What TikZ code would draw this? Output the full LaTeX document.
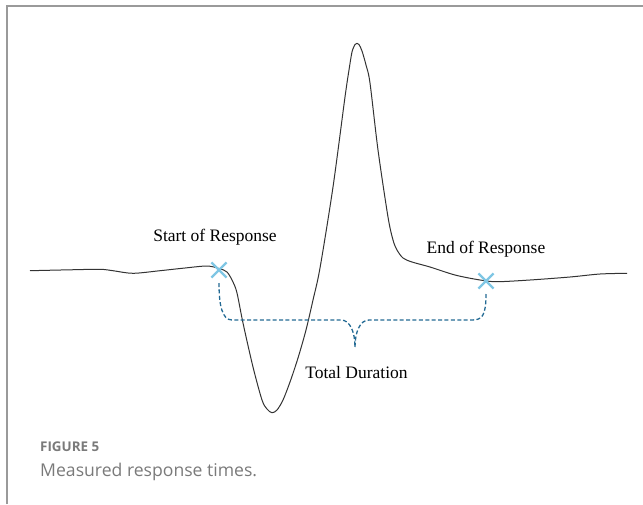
\documentclass[tikz,border=0pt]{standalone}
\usepackage{fontspec}
\setmainfont{Liberation Serif}
\newfontfamily\capfont{Open Sans}
\usetikzlibrary{shapes.misc}

\definecolor{framegray}{HTML}{9A9A9A}
\definecolor{wavegray}{HTML}{333333}
\definecolor{markblue}{HTML}{7FC6E4}
\definecolor{durblue}{HTML}{236A94}
\definecolor{captiongray}{HTML}{7A7A7A}

\tikzset{
  waveline/.style={draw=wavegray, line width=1pt, line join=round},
  crossmark/.style={cross out, draw=markblue, line width=2.2pt, minimum size=13pt, inner sep=0pt},
  durline/.style={draw=durblue, line width=1.3pt, dash pattern=on 4pt off 2.4pt},
  marklabel/.style={font=\fontsize{17.5}{20}\selectfont, anchor=base, inner sep=0pt}
}

\begin{document}
\begin{tikzpicture}[x=1pt, y=-1pt]

  \useasboundingbox (0,0) rectangle (643,504);

  % frame
  \draw[framegray, line width=1.4pt] (7,504) -- (7,6) -- (643,6);

  % response trace
  \draw[waveline] plot[smooth, tension=0.5] coordinates {
    (30,270.7) (70,269.8) (100,269.3) (113,270.7) (133,273.3) (160,270.7)
    (185,268) (207,266) (219,268.5) (227,272) (233,282) (237,293)
    (243,323) (253,367) (262,400) (267,409) (272,412.7) (277,410)
    (283,400) (290,382) (298,358) (306,330) (313,300) (320,268) (333,187)
    (345,97) (349,70) (352,52) (355,44.5) (357,43.3) (359,44.5)
    (362,51) (366,65) (370,83)
    (378,150) (388,217) (393,240) (397,250) (403,258) (412,262)
    (430,267) (455,275) (480,280) (497,281.7) (530,280) (570,277)
    (600,274) (627,273.3)};

  % markers
  \node[crossmark] (startx) at (219,270) {};
  \node[crossmark] (endx)   at (486,281) {};

  \node[marklabel] (startlbl) at (215,241.7) {Start of Response};
  \node[marklabel] (endlbl)   at (486,253)   {End of Response};

  % duration brace
  \coordinate (durtip) at (355,347);
  \draw[durline] ([yshift=-13pt]startx.center) .. controls +(0,22) and +(-10,0) .. (232,320)
    -- (341,320) .. controls +(9,0) and +(0,-15) .. (durtip);
  \draw[durline] ([yshift=-13pt]endx.center) .. controls +(0,22) and +(10,0) .. (472,320)
    -- (369,320) .. controls +(-9,0) and +(0,-15) .. (durtip);

  \node[marklabel] (durlbl) at (356.5,378) {Total Duration};

  % caption
  \node[anchor=base west, inner sep=0pt, text=captiongray,
        font=\capfont\bfseries\fontsize{13.4}{16}\selectfont] (fignum) at (40,451.7) {FIGURE 5};
  \node[anchor=base west, inner sep=0pt, text=captiongray,
        font=\capfont\fontsize{17.6}{21}\selectfont] (figcap) at (40,476) {Measured response times.};

\end{tikzpicture}
\end{document}
